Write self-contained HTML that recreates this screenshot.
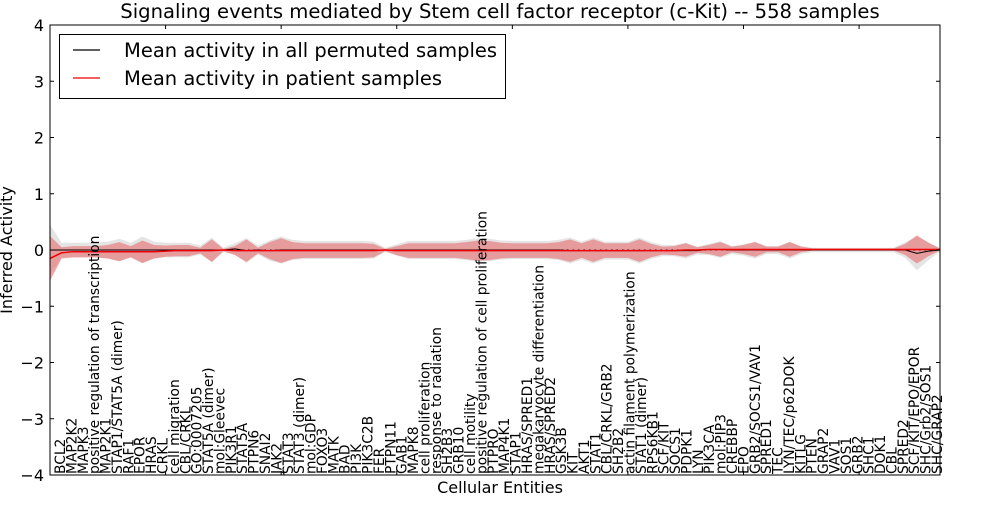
<!DOCTYPE html>
<html><head><meta charset="utf-8"><style>
body{margin:0;background:#fff;}
svg text{font-family:"DejaVu Sans","Liberation Sans",sans-serif;}
</style></head><body>
<svg id="chart" width="1000" height="500" xmlns="http://www.w3.org/2000/svg">
<rect width="1000" height="500" fill="#fff"/>
<text x="500" y="18" font-size="19.6" text-anchor="middle">Signaling events mediated by Stem cell factor receptor (c-Kit) -- 558 samples</text>
<text transform="translate(12,250) rotate(-90)" font-size="16" text-anchor="middle">Inferred Activity</text>
<text x="500" y="493" font-size="16" text-anchor="middle">Cellular Entities</text>
<g id="plot"></g>
</svg>
<script>
const categories=["BCL2","MAP2K2","MAPK3","positive regulation of transcription","MAP2K1","STAP1/STAT5A (dimer)","RAF1","EPOR","HRAS","CRKL","cell migration","CBL/CRKL","GO:0007205","STAT5A (dimer)","mol:Gleevec","PIK3R1","STAT5A","PTPN6","SNAI2","JAK2","STAT3","STAT3 (dimer)","mol:GDP","FOXO3","MATK","BAD","PI3K","PIK3C2B","FER","PTPN11","GAB1","MAPK8","cell proliferation","response to radiation","SH2B3","GRB10","cell motility","positive regulation of cell proliferation","PTPRO","MAP4K1","STAP1","HRAS/SPRED1","megakaryocyte differentiation","HRAS/SPRED2","GSK3B","KIT","AKT1","STAT1","CBL/CRKL/GRB2","SH2B2","actin filament polymerization","STAT1 (dimer)","RPS6KB1","SCF/KIT","SOCS1","PDPK1","LYN","PIK3CA","mol:PIP3","CREBBP","EPO","GRB2/SOCS1/VAV1","SPRED1","TEC","LYN/TEC/p62DOK","KITLG","PTEN","GRAP2","VAV1","SOS1","GRB2","SHC1","DOK1","CBL","SPRED2","SCF/KIT/EPO/EPOR","SHC/Grb2/SOS1","SHC/GRAP2"];
const patientMean=[-0.15,-0.05,-0.03,-0.03,-0.03,-0.03,-0.03,-0.03,-0.03,-0.03,-0.02,-0.01,-0.01,-0.01,-0.01,0,-0.01,-0.01,-0.01,-0.01,-0.01,-0.01,-0.01,-0.01,-0.01,-0.01,-0.01,-0.01,-0.01,0,-0.01,-0.01,-0.01,-0.01,-0.01,-0.01,-0.01,-0.01,-0.01,-0.01,-0.01,-0.01,-0.01,-0.01,-0.01,-0.01,-0.01,-0.01,-0.01,-0.01,-0.01,-0.01,-0.01,-0.01,-0.01,0,0,0.01,0.01,0.01,0.01,0.01,0.01,0.01,0.01,0.01,0.01,0.01,0.01,0.01,0.01,0.01,0.01,0.01,0.01,0.01,0.01,0.01];
const permutedMean=[0,0,0,0,0,0,0,0,0,0,0,0,0,0,0,0,0.02,-0.01,0,-0.01,0,0,0,0,0,0,0,0,0,0,0,0,0,0,0,0,0,0,0,0,0,0,0,0,0,-0.01,-0.01,-0.01,-0.01,-0.01,-0.01,-0.01,-0.01,-0.01,-0.01,-0.01,-0.01,0.01,0.01,0,0,0,0,0,0,0,0,0,0,0,0,0,0,0,0,-0.06,-0.02,0];
const redHalf=[0.4,0.1,0.1,0.1,0.1,0.12,0.17,0.1,0.2,0.12,0.1,0.1,0.1,0.05,0.2,0.02,0.08,0.2,0.05,0.15,0.22,0.15,0.13,0.13,0.13,0.13,0.13,0.13,0.12,0.02,0.08,0.13,0.13,0.13,0.13,0.13,0.15,0.18,0.17,0.14,0.13,0.13,0.13,0.13,0.15,0.2,0.13,0.2,0.13,0.13,0.13,0.2,0.12,0.07,0.08,0.12,0.05,0.08,0.13,0.05,0.08,0.13,0.05,0.05,0.13,0.05,0.02,0.02,0.02,0.02,0.02,0.02,0.02,0.02,0.1,0.25,0.12,0.02];
const greyHalf=[0.45,0.13,0.13,0.13,0.13,0.15,0.2,0.13,0.24,0.15,0.13,0.13,0.13,0.08,0.22,0.04,0.1,0.22,0.08,0.18,0.24,0.18,0.16,0.16,0.16,0.16,0.16,0.16,0.15,0.04,0.1,0.16,0.16,0.16,0.16,0.16,0.18,0.21,0.2,0.17,0.16,0.16,0.16,0.16,0.18,0.23,0.16,0.23,0.16,0.16,0.16,0.23,0.15,0.1,0.1,0.14,0.07,0.1,0.15,0.07,0.1,0.15,0.07,0.07,0.15,0.07,0.04,0.04,0.04,0.04,0.04,0.04,0.04,0.04,0.14,0.3,0.16,0.03];
const yTicks=[-4,-3,-2,-1,0,1,2,3,4];
const xTicks=[0,10,20,30,40,50,60,70];

const L=50,R=940,T=25,B=475;
const n=categories.length;
const xs=i=>L+i*(R-L)/(n-1);
const xl=i=>60+i*(937-60)/(n-1);
const ys=v=>T+(4-v)*(B-T)/8;
const NS="http://www.w3.org/2000/svg";
const g=document.getElementById('plot');
function mk(tag,attrs,parent){const e=document.createElementNS(NS,tag);for(const k in attrs)e.setAttribute(k,attrs[k]);(parent||g).appendChild(e);return e;}
function band(mean,half){let up=[],lo=[];for(let i=0;i<n;i++){up.push(xs(i)+','+ys(mean[i]+half[i]));lo.unshift(xs(i)+','+ys(mean[i]-half[i]));}return up.concat(lo).join(' ');}
const gb=mk('polygon',{points:band(permutedMean,greyHalf),fill:'#dddddd','fill-opacity':'0.8'});


const rb=mk('polygon',{points:band(patientMean,redHalf),fill:'#e86060','fill-opacity':'0.55'});


const zl=mk('line',{x1:L,x2:R,y1:ys(0),y2:ys(0),stroke:'#000','stroke-width':1,'stroke-dasharray':'1.5,4'});


const pl=mk('polyline',{points:permutedMean.map((v,i)=>xs(i)+','+ys(v)).join(' '),fill:'none',stroke:'#000','stroke-width':1});


const rl=mk('polyline',{points:patientMean.map((v,i)=>xs(i)+','+ys(v)).join(' '),fill:'none',stroke:'#e00','stroke-width':1.5});


categories.forEach((c,i)=>{const t=mk('text',{transform:`translate(${xl(i)+5},474) rotate(-90)`,'font-size':'13.8'});t.textContent=c;

});
const fr=mk('rect',{x:L,y:T,width:R-L,height:B-T,fill:'none',stroke:'#000','stroke-width':1});


yTicks.forEach(v=>{mk('line',{x1:L,x2:L+4,y1:ys(v),y2:ys(v),stroke:'#000'});mk('line',{x1:R,x2:R-4,y1:ys(v),y2:ys(v),stroke:'#000'});
const t=mk('text',{x:L-6,y:ys(v)+6,'font-size':'16','text-anchor':'end'});t.textContent=v<0?'\u2212'+(-v):v;

});
xTicks.forEach(i=>{mk('line',{x1:xs(i),x2:xs(i),y1:T,y2:T+4,stroke:'#000'});mk('line',{x1:xs(i),x2:xs(i),y1:B,y2:B-4,stroke:'#000'});});
const lg=mk('g',{});


mk('rect',{x:59.5,y:34.5,width:446,height:64,fill:'#fff',stroke:'#000'},lg);
mk('line',{x1:73,x2:100,y1:50,y2:50,stroke:'#000','stroke-width':1.2},lg);
mk('line',{x1:73,x2:100,y1:78,y2:78,stroke:'#e00','stroke-width':1.2},lg);
const t1=mk('text',{x:124,y:57,'font-size':'19.5'},lg);t1.textContent='Mean activity in all permuted samples';


const t2=mk('text',{x:124,y:85,'font-size':'19.5'},lg);t2.textContent='Mean activity in patient samples';


</script>
</body></html>
